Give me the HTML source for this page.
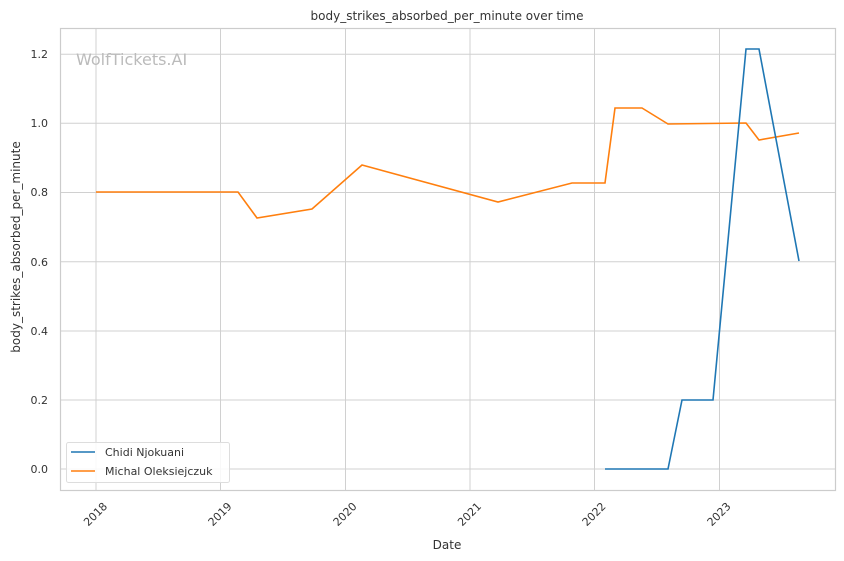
<!DOCTYPE html>
<html><head><meta charset="utf-8"><style>body{margin:0;background:#fff}svg{display:block}text{font-family:"DejaVu Sans","Liberation Sans",sans-serif;fill:#333}</style></head>
<body>
<svg width="844" height="561" viewBox="0 0 844 561" xmlns="http://www.w3.org/2000/svg">
<rect width="844" height="561" fill="#fff"/>
<g stroke="#d0d0d0" stroke-width="1">
<line x1="96" y1="28" x2="96" y2="490"/><line x1="220.5" y1="28" x2="220.5" y2="490"/>
<line x1="345.5" y1="28" x2="345.5" y2="490"/><line x1="470" y1="28" x2="470" y2="490"/>
<line x1="594.5" y1="28" x2="594.5" y2="490"/><line x1="719.5" y1="28" x2="719.5" y2="490"/>
<line x1="60" y1="469" x2="835" y2="469"/><line x1="60" y1="400" x2="835" y2="400"/>
<line x1="60" y1="331" x2="835" y2="331"/><line x1="60" y1="261.7" x2="835" y2="261.7"/>
<line x1="60" y1="192.5" x2="835" y2="192.5"/><line x1="60" y1="123.3" x2="835" y2="123.3"/>
<line x1="60" y1="54.3" x2="835" y2="54.3"/>
</g>
<rect x="60.5" y="28.5" width="775" height="462" fill="none" stroke="#ccc" stroke-width="1.2"/>
<text x="76" y="65" font-size="16" style="fill:#bbb">WolfTickets.AI</text>
<polyline fill="none" stroke="#ff7f0e" stroke-width="1.6" points="96,192 238,192 257,218 312,209 362,165 498,202 572,183 605,183 615,108 642,108 668,124 746,123 759,140 799,133"/>
<polyline fill="none" stroke="#1f77b4" stroke-width="1.6" points="605,469 668,469 682,400 713,400 746,49 759,49 799,261"/>
<g font-size="11" text-anchor="end">
<text x="48" y="473">0.0</text><text x="48" y="404">0.2</text><text x="48" y="335">0.4</text>
<text x="48" y="266">0.6</text><text x="48" y="196">0.8</text><text x="48" y="127">1.0</text><text x="48" y="58">1.2</text>
</g>
<g font-size="11" text-anchor="end">
<text transform="translate(108,507) rotate(-45)">2018</text>
<text transform="translate(232.5,507) rotate(-45)">2019</text>
<text transform="translate(357.5,507) rotate(-45)">2020</text>
<text transform="translate(482,507) rotate(-45)">2021</text>
<text transform="translate(606.5,507) rotate(-45)">2022</text>
<text transform="translate(731.5,507) rotate(-45)">2023</text>
</g>
<text x="447" y="549" font-size="12" text-anchor="middle">Date</text>
<text transform="translate(20,247) rotate(-90)" font-size="12" text-anchor="middle">body_strikes_absorbed_per_minute</text>
<text x="447" y="20" font-size="12" text-anchor="middle">body_strikes_absorbed_per_minute over time</text>
<rect x="66.5" y="442.5" width="163" height="40" rx="2" fill="#fff" fill-opacity="0.85" stroke="#ddd"/>
<line x1="71" y1="452" x2="95" y2="452" stroke="#1f77b4" stroke-width="1.6"/>
<line x1="71" y1="471" x2="95" y2="471" stroke="#ff7f0e" stroke-width="1.6"/>
<text x="105" y="456" font-size="11">Chidi Njokuani</text>
<text x="105" y="475" font-size="11">Michal Oleksiejczuk</text>
</svg>
</body></html>
